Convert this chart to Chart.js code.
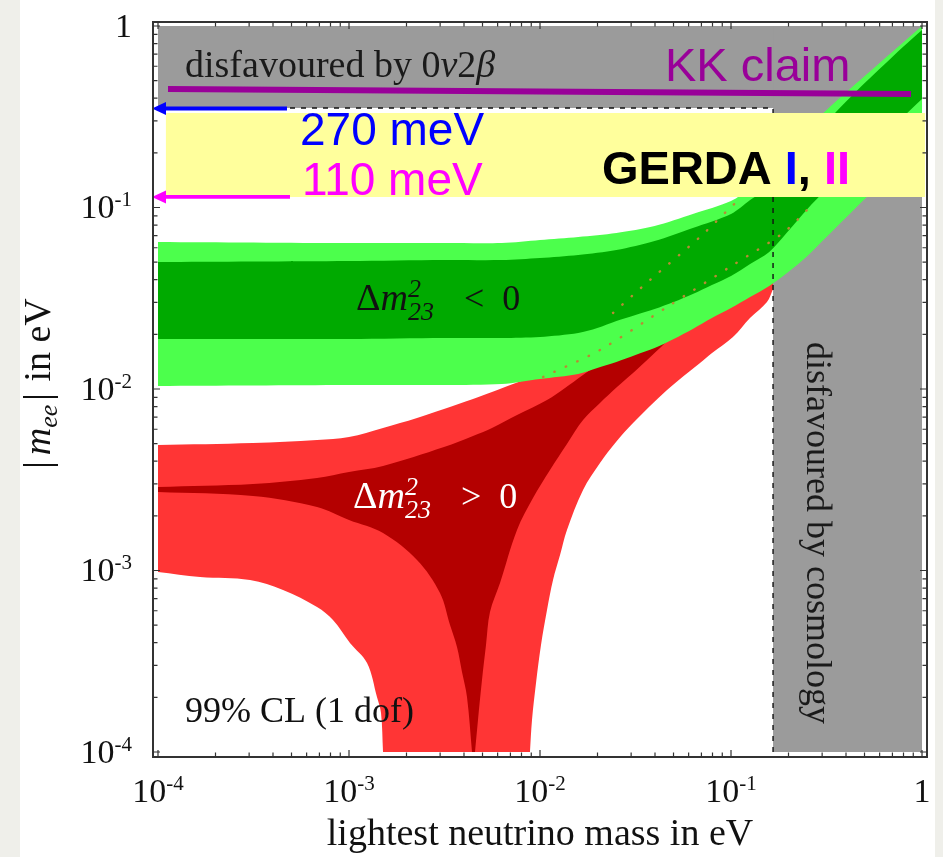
<!DOCTYPE html>
<html><head><meta charset="utf-8">
<script src="https://cdn.jsdelivr.net/npm/chart.js@4.4.1/dist/chart.umd.min.js"></script>
<style>
html,body{margin:0;padding:0;background:#efefea;}
canvas{display:block;}
</style></head>
<body>
<canvas id="c" width="943" height="857"></canvas>
<script>
// ---------------- data (all values in eV) ----------------
const decadeTicks = [1e-4, 1e-3, 1e-2, 1e-1, 1];
const decadeExponents = ['-4', '-3', '-2', '-1', ''];

// limits of the grey "disfavoured" regions
const bandLimitMee = 0.353;     // disfavoured by 0v2beta (above)
const cosmoLimitM = 0.166;      // disfavoured by cosmology (right of)

// normal hierarchy (Delta m^2_23 > 0), outer 99% CL region outline
const lightRedM = [1e-4, 3.143e-4, 6.8e-4, 1e-3, 1.507e-3, 2.27e-3, 3.143e-3, 4.458e-3, 5.606e-3, 7.222e-3, 0.01, 0.01581, 0.025, 0.04, 0.06324, 0.1, 0.166, 0.166, 0.1543, 0.1257, 0.1024, 0.07953, 0.06882, 0.04624, 0.03069, 0.025, 0.02061, 0.0168, 0.01384, 0.01273, 0.0117, 0.01088, 0.01012, 9.53e-3, 9.08e-3, 8.86e-3, 1.507e-3, 1.471e-3, 1.401e-3, 1.243e-3, 1.012e-3, 8.245e-4, 6.8e-4, 4.513e-4, 3.032e-4, 1.66e-4, 1e-4];
const lightRedMee = [4.914e-3, 5.04e-3, 5.236e-3, 5.438e-3, 6.097e-3, 6.92e-3, 7.76e-3, 8.81e-3, 9.627e-3, 0.01065, 0.01194, 0.01305, 0.01539, 0.01862, 0.02339, 0.03015, 0.03987, 0.03556, 0.03015, 0.02461, 0.01934, 0.01579, 0.0139, 9.874e-3, 6.497e-3, 5.105e-3, 3.911e-3, 2.777e-3, 1.672e-3, 1.217e-3, 8.866e-4, 6.058e-4, 3.886e-4, 2.4e-4, 1.501e-4, 1e-4, 1e-4, 1.64e-4, 2.009e-4, 3.093e-4, 3.987e-4, 5.337e-4, 6.294e-4, 7.808e-4, 8.866e-4, 9.21e-4, 9.81e-4];

// normal hierarchy, inner region outline
const darkRedM = [1e-4, 3.143e-4, 6.8e-4, 1e-3, 1.507e-3, 3.143e-3, 4.458e-3, 5.606e-3, 7.58e-3, 0.01088, 0.01352, 0.02061, 0.03069, 0.05743, 0.04569, 0.03545, 0.03069, 0.0253, 0.02061, 0.0168, 0.01384, 0.01128, 9.19e-3, 7.58e-3, 6.175e-3, 5.472e-3, 5.215e-3, 4.969e-3, 4.735e-3, 4.567e-3, 4.406e-3, 4.147e-3, 3.905e-3, 3.676e-3, 3.38e-3, 2.995e-3, 2.27e-3, 1.507e-3, 1e-3, 6.8e-4, 3.143e-4, 1e-4];
const darkRedMee = [2.884e-3, 2.996e-3, 3.233e-3, 3.488e-3, 3.765e-3, 4.79e-3, 5.508e-3, 6.097e-3, 7.19e-3, 8.7e-3, 0.01013, 0.01373, 0.0164, 0.02339, 0.01815, 0.01409, 0.01225, 0.01026, 8.375e-3, 6.749e-3, 4.977e-3, 3.578e-3, 2.508e-3, 1.672e-3, 8.533e-4, 5.905e-4, 3.886e-4, 2.493e-4, 1.501e-4, 1e-4, 1e-4, 2.009e-4, 2.759e-4, 3.789e-4, 5.008e-4, 7.516e-4, 1.143e-3, 1.609e-3, 1.897e-3, 2.238e-3, 2.573e-3, 2.707e-3];

// inverted hierarchy (Delta m^2_23 < 0): outer band
const lightGreenUpperM = [1e-4, 1e-3, 3.162e-3, 6.31e-3, 0.01, 0.01585, 0.02512, 0.03981, 0.0631, 0.1, 0.1259, 0.1585, 0.2512, 0.3162, 0.5012, 1];
const lightGreenUpperMee = [0.0646, 0.0637, 0.0637, 0.0637, 0.0662, 0.0688, 0.0724, 0.0791, 0.0921, 0.1086, 0.1281, 0.163, 0.2639, 0.3445, 0.5303, 1.0];
const lightGreenLowerM = [1e-4, 1e-3, 3.162e-3, 6.31e-3, 0.01, 0.01585, 0.01995, 0.02512, 0.03162, 0.03981, 0.05012, 0.0631, 0.07943, 0.1, 0.1259, 0.1585, 0.1995, 0.2512, 0.3162, 0.3981, 0.5012, 0.631, 0.7943, 1];
const lightGreenLowerMee = [0.01039, 0.01052, 0.01052, 0.01065, 0.01135, 0.0121, 0.01306, 0.01409, 0.01539, 0.01682, 0.01886, 0.02141, 0.02461, 0.02794, 0.03212, 0.03694, 0.04411, 0.05404, 0.0688, 0.08752, 0.1114, 0.1417, 0.1804, 0.2296];

// inverted hierarchy: inner band
const darkGreenUpperM = [1e-4, 1e-3, 3.162e-3, 6.31e-3, 0.01, 0.01585, 0.02512, 0.03981, 0.0631, 0.1, 0.1259, 0.1585, 0.2512, 0.3162, 0.3981, 0.5012, 0.631, 0.7943, 1];
const darkGreenUpperMee = [0.05008, 0.05072, 0.05136, 0.05136, 0.05268, 0.05473, 0.05831, 0.06537, 0.0771, 0.09209, 0.11, 0.1297, 0.2239, 0.2959, 0.3814, 0.4853, 0.6097, 0.7661, 0.9506];
const darkGreenLowerM = [1e-4, 1e-3, 3.162e-3, 6.31e-3, 0.01, 0.01585, 0.01995, 0.02512, 0.03162, 0.03981, 0.05012, 0.0631, 0.07943, 0.1, 0.1259, 0.1585, 0.1995, 0.2512, 0.3162, 0.3981, 0.5012, 0.631, 0.7943, 1];
const darkGreenLowerMee = [0.01886, 0.01886, 0.0191, 0.0191, 0.01934, 0.02034, 0.02168, 0.02369, 0.02557, 0.02759, 0.03015, 0.03337, 0.03741, 0.04194, 0.04884, 0.05686, 0.07421, 0.09811, 0.1264, 0.1589, 0.1997, 0.2508, 0.3151, 0.3962];

// dotted (hidden) normal-hierarchy boundaries seen through the green band
const dottedAM = [0.01037, 0.02061, 0.04624, 0.1024, 0.1872, 0.2655];
const dottedAMee = [0.01164, 0.0164, 0.0283, 0.04822, 0.07236, 0.1032];
const dottedBM = [0.02411, 0.03766, 0.06882, 0.09881, 0.1142];
const dottedBMee = [0.02622, 0.03987, 0.0688, 0.09936, 0.1143];

// KK claim line
const kkM = [1.128e-4, 0.876];
const kkMee = [0.4496, 0.422];

// GERDA box and arrows
const gerdaBoxM = [1.1e-4, 1.037];
const gerdaBoxMee = [0.1143, 0.3317];
const arrowMee = [0.3511, 0.1143];      // 270 meV (blue), 110 meV (magenta)
const arrowEndM = [4.735e-4, 4.909e-4];

// ---------------- helpers ----------------
const pts = (ms, ys) => ms.map((m, i) => ({x: m, y: ys[i]}));
const outline = (um, uy, lm, ly) => pts(um, uy).concat(pts(lm, ly).reverse());
const rect = (x0, x1, y0, y1) => [{x:x0,y:y0},{x:x1,y:y0},{x:x1,y:y1},{x:x0,y:y1}];
// repeat corner vertices so that the smoothed outline keeps sharp corners there
function sharpen(points, corners) {
  const out = [];
  points.forEach((p, i) => { out.push(p); if (corners.includes(i)) out.push({x: p.x, y: p.y}); });
  return out;
}

function region(data, color, order, tension) {
  return {data, fill: 'shape', backgroundColor: color, borderColor: 'rgba(0,0,0,0)',
          borderWidth: 0, pointRadius: 0, tension: tension || 0, order};
}

const GREY = '#9b9b9b';
const lgOutline = outline(lightGreenUpperM, lightGreenUpperMee, lightGreenLowerM, lightGreenLowerMee);
const dgOutline = outline(darkGreenUpperM, darkGreenUpperMee, darkGreenLowerM, darkGreenLowerMee);
const DOT = '#b88a34';
const datasets = [
  region(rect(1e-4, 1, bandLimitMee, 1), GREY, 10),
  region(rect(cosmoLimitM, 1, 1e-4, 1), GREY, 9),
  region(sharpen(pts(lightRedM, lightRedMee), [16, 17, 35, 36]), '#ff3535', 8, 0.35),
  region(sharpen(pts(darkRedM, darkRedMee), [29, 30]), '#b40000', 7, 0.35),
  region(sharpen(lgOutline, [lightGreenUpperM.length - 1, lightGreenUpperM.length]), '#4cff4c', 6, 0.3),
  region(sharpen(dgOutline, [darkGreenUpperM.length - 1, darkGreenUpperM.length]), '#00aa00', 5, 0.3),
  {data: pts(dottedAM, dottedAMee), borderColor: DOT, borderWidth: 2.4, borderDash: [0.5, 12], borderCapStyle: 'round', pointRadius: 0, fill: false, tension: 0.3, order: 4},
  {data: pts(dottedBM, dottedBMee), borderColor: DOT, borderWidth: 2.4, borderDash: [0.5, 12], borderCapStyle: 'round', pointRadius: 0, fill: false, tension: 0.3, order: 4},
  {data: [{x:1e-4,y:bandLimitMee},{x:cosmoLimitM,y:bandLimitMee},{x:cosmoLimitM,y:1e-4}], borderColor: '#111', borderWidth: 1.4, borderDash: [5, 6], pointRadius: 0, fill: false, order: 3},
  region(rect(gerdaBoxM[0], gerdaBoxM[1], gerdaBoxMee[0], gerdaBoxMee[1]), '#ffff9c', 2),
  {data: pts(kkM, kkMee), borderColor: '#990099', borderWidth: 6, pointRadius: 0, fill: false, order: 1}
];

const SERIF = '"Liberation Serif","Times New Roman",serif';
const SANS = '"Liberation Sans",Arial,sans-serif';

function drawParts(ctx, x, y, parts) {
  let cx = x;
  for (const p of parts) {
    ctx.font = p.font;
    ctx.fillStyle = p.color || '#111';
    if (p.dx) cx += p.dx;
    ctx.fillText(p.t, cx, y + (p.dy || 0));
    const w = ctx.measureText(p.t).width;
    if (!p.stay) cx += w;
  }
  return cx;
}
function partsWidth(ctx, parts) {
  let w = 0;
  for (const p of parts) { ctx.font = p.font; if (p.dx) w += p.dx; if (!p.stay) w += ctx.measureText(p.t).width; }
  return w;
}
function deltaLabel(sign, color) {
  return [
    {t: '\u0394', font: `38px ${SERIF}`, color},
    {t: 'm', font: `italic 38px ${SERIF}`, color},
    {t: '2', font: `italic 26px ${SERIF}`, color, dy: -13, stay: true},
    {t: '23', font: `italic 26px ${SERIF}`, color, dy: 10},
    {t: sign, font: `36px ${SERIF}`, color, dx: 30},
    {t: '0', font: `36px ${SERIF}`, color, dx: 18}
  ];
}

const textLabels = [
  {m: 1.385e-4, mee: 0.5236, parts: [
    {t: 'disfavoured by 0', font: `38px ${SERIF}`, color: '#1a1a1a'},
    {t: '\u03bd', font: `italic 38px ${SERIF}`, color: '#1a1a1a'},
    {t: '2', font: `38px ${SERIF}`, color: '#1a1a1a'},
    {t: '\u03b2', font: `italic 38px ${SERIF}`, color: '#1a1a1a'}]},
  {m: 0.04513, mee: 0.4977, parts: [{t: 'KK claim', font: `47px ${SANS}`, color: '#990099'}]},
  {m: 5.54e-4, mee: 0.221, parts: [{t: '270 meV', font: `46px ${SANS}`, color: '#0000ff'}]},
  {m: 5.675e-4, mee: 0.1172, parts: [{t: '110 meV', font: `46px ${SANS}`, color: '#ff00ff'}]},
  {m: 0.02112, mee: 0.1348, parts: [
    {t: 'GERDA ', font: `bold 47px ${SANS}`, color: '#000'},
    {t: 'I', font: `bold 47px ${SANS}`, color: '#0000ff'},
    {t: ', ', font: `bold 47px ${SANS}`, color: '#000'},
    {t: 'II', font: `bold 47px ${SANS}`, color: '#ff00ff'}]},
  {m: 1.088e-3, mee: 0.02724, parts: deltaLabel('<', '#111')},
  {m: 1.05e-3, mee: 2.21e-3, parts: deltaLabel('>', '#ffffff')},
  {m: 1.385e-4, mee: 1.463e-4, parts: [{t: '99% CL (1 dof)', font: `36px ${SERIF}`, color: '#111'}]}
];

const annotPlugin = {
  id: 'annot',
  beforeDraw(chart) {
    const ctx = chart.ctx;
    ctx.save();
    ctx.fillStyle = '#efefea';
    ctx.fillRect(0, 0, chart.width, chart.height);
    ctx.fillStyle = '#ffffff';
    ctx.fillRect(20, 0, 915, chart.height);
    ctx.restore();
  },
  afterDatasetsDraw(chart) {
    const ctx = chart.ctx, xs = chart.scales.x, ys = chart.scales.y, area = chart.chartArea;
    ctx.save();
    ctx.textBaseline = 'alphabetic';
    ctx.textAlign = 'left';
    // arrows
    const colors = ['#0000ff', '#ff00ff'];
    arrowMee.forEach((v, i) => {
      const y = ys.getPixelForValue(v), x1 = xs.getPixelForValue(arrowEndM[i]), x0 = area.left - 1;
      ctx.strokeStyle = colors[i]; ctx.fillStyle = colors[i]; ctx.lineWidth = 3.8;
      ctx.beginPath(); ctx.moveTo(x0 + 10, y); ctx.lineTo(x1, y); ctx.stroke();
      ctx.beginPath(); ctx.moveTo(x0, y); ctx.lineTo(x0 + 14, y - 6.5); ctx.lineTo(x0 + 14, y + 6.5); ctx.closePath(); ctx.fill();
    });
    // texts
    for (const lab of textLabels) {
      drawParts(ctx, xs.getPixelForValue(lab.m), ys.getPixelForValue(lab.mee), lab.parts);
    }
    // rotated cosmology label
    ctx.save();
    ctx.translate(xs.getPixelForValue(0.25), ys.getPixelForValue(0.01815));
    ctx.rotate(Math.PI / 2);
    drawParts(ctx, 0, 0, [{t: 'disfavoured by cosmology', font: `36px ${SERIF}`, color: '#1a1a1a'}]);
    ctx.restore();
    ctx.restore();
  },
  afterDraw(chart) {
    const ctx = chart.ctx, xs = chart.scales.x, ys = chart.scales.y, a = chart.chartArea;
    ctx.save();
    // frame
    ctx.strokeStyle = '#333'; ctx.lineWidth = 2;
    ctx.strokeRect(a.left, a.top, a.right - a.left, a.bottom - a.top);
    // ticks
    ctx.lineWidth = 1.2;
    ctx.beginPath();
    decadeTicks.forEach((d, k) => {
      const steps = k < decadeTicks.length - 1 ? [1,2,3,4,5,6,7,8,9] : [1];
      steps.forEach(s => {
        const v = d * s, len = s === 1 ? 7 : 4.5;
        const px = xs.getPixelForValue(v), py = ys.getPixelForValue(v);
        ctx.moveTo(px, a.bottom); ctx.lineTo(px, a.bottom - len);
        ctx.moveTo(px, a.top); ctx.lineTo(px, a.top + len);
        ctx.moveTo(a.left, py); ctx.lineTo(a.left + len, py);
        ctx.moveTo(a.right, py); ctx.lineTo(a.right - len, py);
      });
    });
    ctx.stroke();
    // tick labels
    const tickParts = exp => exp ? [
      {t: '10', font: `34px ${SERIF}`, color: '#111'},
      {t: exp, font: `21px ${SERIF}`, color: '#111', dy: -12}
    ] : [{t: '1', font: `34px ${SERIF}`, color: '#111'}];
    ctx.textAlign = 'left'; ctx.textBaseline = 'alphabetic';
    decadeTicks.forEach((d, k) => {
      const parts = tickParts(decadeExponents[k]);
      const w = partsWidth(ctx, parts);
      drawParts(ctx, xs.getPixelForValue(d) - w / 2, a.bottom + 45, parts);
      drawParts(ctx, a.left - 21 - w, ys.getPixelForValue(d) + 11, parts);
    });
    // axis titles
    const xt = [{t: 'lightest neutrino mass in eV', font: `38px ${SERIF}`, color: '#111'}];
    drawParts(ctx, (a.left + a.right) / 2 - partsWidth(ctx, xt) / 2, a.bottom + 88, xt);
    const yt = [
      {t: '|', font: `38px ${SERIF}`, color: '#111'},
      {t: 'm', font: `italic 38px ${SERIF}`, color: '#111', dx: 6},
      {t: 'ee', font: `italic 26px ${SERIF}`, color: '#111', dy: 7},
      {t: '|', font: `38px ${SERIF}`, color: '#111', dx: 4},
      {t: ' in eV', font: `38px ${SERIF}`, color: '#111', dx: 2}
    ];
    ctx.save();
    ctx.translate(a.left - 103, (a.top + a.bottom) / 2 - 6);
    ctx.rotate(-Math.PI / 2);
    drawParts(ctx, -partsWidth(ctx, yt) / 2, 0, yt);
    ctx.restore();
    ctx.restore();
  }
};

new Chart(document.getElementById('c'), {
  type: 'line',
  data: {datasets},
  options: {
    responsive: false, animation: false, devicePixelRatio: 1, events: [],
    layout: {padding: {left: 153, top: 22, right: 16, bottom: 100}},
    plugins: {legend: {display: false}, tooltip: {enabled: false}},
    scales: {
      x: {type: 'logarithmic', min: 9.415e-5, max: 1.062, display: false},
      y: {type: 'logarithmic', min: 9.385e-5, max: 1.052, display: false}
    }
  },
  plugins: [annotPlugin]
});
</script>
</body></html>
